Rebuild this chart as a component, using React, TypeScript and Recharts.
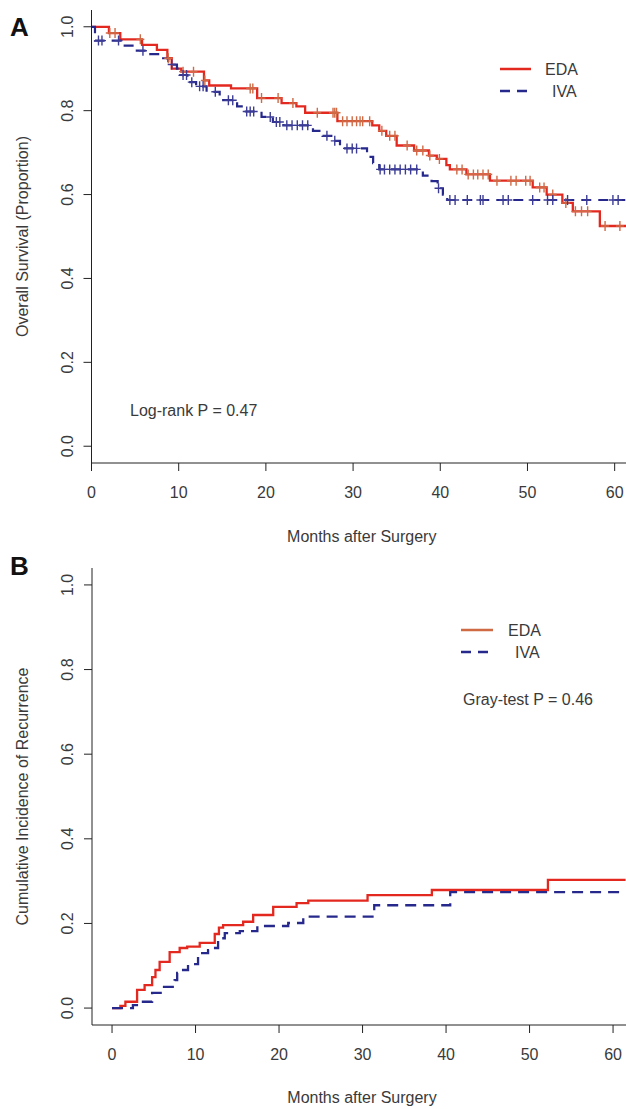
import { ComposedChart, Line, Scatter, XAxis, YAxis, Legend } from 'recharts'

// Panel A: overall survival (Kaplan-Meier steps)
const edaTimesA = [0, 2, 3.3, 5.8, 7.5, 8.7, 9.2, 10.3, 12.9, 13.5, 16, 19, 21.8, 23.5, 24.5, 28.2, 32.2, 33, 33.8, 35, 37, 38.7, 39.6, 40.7, 41.1, 43, 45.7, 50.6, 52.2, 54, 55.2, 58.3, 61.3]
const edaSurvA = [1.0, 0.985, 0.97, 0.957, 0.945, 0.925, 0.9, 0.893, 0.872, 0.86, 0.853, 0.83, 0.818, 0.81, 0.795, 0.775, 0.765, 0.752, 0.74, 0.717, 0.705, 0.693, 0.685, 0.67, 0.66, 0.648, 0.633, 0.617, 0.6, 0.58, 0.56, 0.525, 0.525]
const ivaTimesA = [0, 0.4, 3.6, 5.2, 6.5, 7.9, 8.8, 9.8, 10.1, 11, 12, 13.2, 14.7, 16.7, 17.5, 19.5, 20.8, 22, 25.4, 26.5, 27.5, 28.5, 31.6, 32.3, 33, 38, 39, 39.7, 40.3, 40.8, 61.3]
const ivaSurvA = [1.0, 0.967, 0.955, 0.943, 0.935, 0.925, 0.91, 0.9, 0.885, 0.868, 0.858, 0.845, 0.825, 0.81, 0.798, 0.785, 0.773, 0.765, 0.752, 0.74, 0.728, 0.71, 0.69, 0.675, 0.66, 0.645, 0.632, 0.615, 0.6, 0.587, 0.587]
const edaCensorA = [2.1, 2.7, 5.6, 8.8, 10.5, 11.7, 13, 18.2, 18.5, 19.5, 21.4, 23.1, 25.9, 27.7, 27.9, 28.1, 28.8, 29.3, 29.9, 30.4, 30.8, 31.1, 31.9, 33.3, 34.2, 34.8, 36.2, 37.3, 38, 38.8, 39.9, 41.9, 42.5, 43.2, 43.8, 44.3, 44.9, 45.5, 46.5, 48.1, 48.7, 49.8, 50.3, 51.4, 51.9, 52.9, 54.4, 55.5, 56.2, 56.9, 58.9, 60.6]
const ivaCensorA = [0.8, 1.2, 3.1, 5.9, 9.2, 10.5, 10.9, 11.5, 12.4, 12.8, 14.2, 15.7, 16.2, 17.8, 18.2, 18.6, 20.5, 21.2, 21.6, 22.4, 23, 23.6, 24.2, 24.8, 27, 27.9, 29.3, 29.9, 30.4, 33.1, 33.6, 34.2, 34.8, 35.4, 36, 36.6, 37.3, 39.8, 41.1, 41.7, 43.1, 44.6, 44.9, 47.2, 47.8, 50.6, 52.3, 52.9, 54.6, 56.8, 59.8, 60.4]

// Panel B: cumulative incidence of recurrence
const edaTimesB = [0, 1, 1.6, 3, 3.9, 4.8, 5.2, 5.7, 6.9, 8.1, 9, 10.5, 12.3, 12.8, 13.3, 15.7, 16.9, 19.3, 22.1, 23.5, 30.6, 38.3, 52.2, 61.5]
const edaIncB = [0, 0.005, 0.015, 0.043, 0.054, 0.073, 0.09, 0.109, 0.132, 0.142, 0.145, 0.154, 0.175, 0.19, 0.196, 0.204, 0.22, 0.239, 0.248, 0.254, 0.267, 0.279, 0.303, 0.303]
const ivaTimesB = [0, 2.5, 3.7, 4.8, 6, 7.5, 7.8, 8.1, 9.1, 10.3, 11.5, 12.1, 12.7, 13.5, 15.3, 17.4, 21.1, 22.9, 31.4, 40.5, 61.5]
const ivaIncB = [0, 0.007, 0.015, 0.036, 0.05, 0.066, 0.083, 0.09, 0.104, 0.13, 0.137, 0.142, 0.165, 0.177, 0.182, 0.194, 0.201, 0.216, 0.243, 0.274, 0.274]

const xTicks = [0, 10, 20, 30, 40, 50, 60]
const yTicks = [0, 0.2, 0.4, 0.6, 0.8, 1.0]

const RED = '#e3281f'
const BROWN = '#cf6a45'
const NAVY = '#26288c'
const TXT = '#3a3a3a'
const FONT = '"Liberation Sans", Arial, sans-serif'

const toPoints = (ts: number[], vs: number[]) => ts.map((t, i) => ({ t, s: vs[i] }))

// survival value of a step curve at time t (for placing censor marks)
const stepAt = (ts: number[], vs: number[], t: number) => {
  let v = vs[0]
  for (let i = 0; i < ts.length; i++) if (ts[i] <= t) v = vs[i]
  return v
}
const censorPoints = (cs: number[], ts: number[], vs: number[]) => cs.map(t => ({ t, s: stepAt(ts, vs, t) }))

const plusShape = (color: string) => (props: any) => {
  const { cx, cy } = props
  return <path d={`M${cx - 4},${cy}H${cx + 4}M${cx},${cy - 5}V${cy + 5}`} stroke={color} strokeWidth={1.4} fill="none" />
}

const YTick = (props: any) => {
  const { y, payload } = props
  return (
    <text x={73} y={y} transform={`rotate(-90 73 ${y})`} textAnchor="middle" fontSize={16} fill={TXT} fontFamily={FONT}>
      {payload.value.toFixed(1)}
    </text>
  )
}

const yTitle = (text: string) => (props: any) => {
  const vb = props.viewBox
  const cy = vb.y + vb.height / 2
  return (
    <text x={28} y={cy} transform={`rotate(-90 28 ${cy})`} textAnchor="middle" fontSize={16} fill={TXT} fontFamily={FONT}>
      {text}
    </text>
  )
}

const xTitle = (text: string, dy: number) => (props: any) => {
  const vb = props.viewBox
  return (
    <text x={vb.x + vb.width / 2 + 3} y={vb.y + dy} textAnchor="middle" fontSize={16} fill={TXT} fontFamily={FONT}>
      {text}
    </text>
  )
}

const legendBox = (edaColor: string, lineW: number, textGap: number) => () => (
  <svg width={120} height={48} style={{ display: 'block' }}>
    <line x1={0} y1={10} x2={lineW} y2={10} stroke={edaColor} strokeWidth={2.5} />
    <line x1={0} y1={32} x2={lineW - 3} y2={32} stroke={NAVY} strokeWidth={2.5} strokeDasharray="10 7" />
    <text x={lineW + textGap} y={16} fontSize={16} fill={TXT} fontFamily={FONT}>EDA</text>
    <text x={lineW + textGap + 7} y={38} fontSize={16} fill={TXT} fontFamily={FONT}>IVA</text>
  </svg>
)

const note = (text: string, left: number, top: number) => (
  <div style={{ position: 'absolute', left, top, fontFamily: FONT, fontSize: 16, color: TXT, whiteSpace: 'nowrap', lineHeight: '18px' }}>{text}</div>
)
const panelLabel = (text: string, left: number, top: number) => (
  <div style={{ position: 'absolute', left, top, fontFamily: FONT, fontSize: 26, fontWeight: 'bold', color: '#111', lineHeight: '26px' }}>{text}</div>
)

export default function App() {
  return (
    <div style={{ position: 'absolute', left: 0, top: 0, width: 626, height: 1109, background: '#fff' }}>
      <div style={{ position: 'absolute', left: 0, top: 0 }}>
        <ComposedChart width={626} height={550} margin={{ top: 10, right: 0, bottom: 0, left: 0 }}>
          <XAxis dataKey="t" type="number" domain={[0, 61.3]} ticks={xTicks} allowDataOverflow height={87}
            stroke="#222" tickSize={8} tickMargin={16} tick={{ fontSize: 16, fill: TXT, fontFamily: FONT }}
            label={xTitle('Months after Surgery', 79)} />
          <YAxis type="number" domain={[-0.04, 1.04]} ticks={yTicks} allowDataOverflow width={91.5}
            stroke="#222" tickSize={8} tick={<YTick />} label={yTitle('Overall Survival (Proportion)')} />
          <Line data={toPoints(edaTimesA, edaSurvA)} dataKey="s" type="stepAfter" stroke={RED} strokeWidth={2.3} dot={false} isAnimationActive={false} />
          <Line data={toPoints(ivaTimesA, ivaSurvA)} dataKey="s" type="stepAfter" stroke={NAVY} strokeWidth={2.2} strokeDasharray="10 7" dot={false} isAnimationActive={false} />
          <Scatter data={censorPoints(edaCensorA, edaTimesA, edaSurvA)} dataKey="s" shape={plusShape(BROWN)} isAnimationActive={false} />
          <Scatter data={censorPoints(ivaCensorA, ivaTimesA, ivaSurvA)} dataKey="s" shape={plusShape('#3c3c96')} isAnimationActive={false} />
          <Legend layout="horizontal" verticalAlign="middle" align="center" content={legendBox(RED, 31, 14)}
            wrapperStyle={{ position: 'absolute', left: 500, top: 59, width: 120, height: 48 }} />
        </ComposedChart>
      </div>
      <div style={{ position: 'absolute', left: 0, top: 550 }}>
        <ComposedChart width={626} height={559} margin={{ top: 18, right: 0, bottom: 0, left: 0 }}>
          <XAxis dataKey="t" type="number" domain={[-2.4, 61.55]} ticks={xTicks} allowDataOverflow height={84}
            stroke="#222" tickSize={8} tickMargin={16} tick={{ fontSize: 16, fill: TXT, fontFamily: FONT }}
            label={xTitle('Months after Surgery', 78)} />
          <YAxis type="number" domain={[-0.04, 1.04]} ticks={yTicks} allowDataOverflow width={92}
            stroke="#222" tickSize={8} tick={<YTick />} label={yTitle('Cumulative Incidence of Recurrence')} />
          <Line data={toPoints(edaTimesB, edaIncB)} dataKey="s" type="stepAfter" stroke={RED} strokeWidth={2.3} dot={false} isAnimationActive={false} />
          <Line data={toPoints(ivaTimesB, ivaIncB)} dataKey="s" type="stepAfter" stroke={NAVY} strokeWidth={2.3} strokeDasharray="11 7" dot={false} isAnimationActive={false} />
          <Legend layout="horizontal" verticalAlign="middle" align="center" content={legendBox(BROWN, 32, 15)}
            wrapperStyle={{ position: 'absolute', left: 461, top: 70, width: 120, height: 48 }} />
        </ComposedChart>
      </div>
      {panelLabel('A', 10, 14)}
      {panelLabel('B', 10, 553)}
      {note('Log-rank P = 0.47', 130, 402)}
      {note('Gray-test P = 0.46', 463, 691)}
    </div>
  )
}
